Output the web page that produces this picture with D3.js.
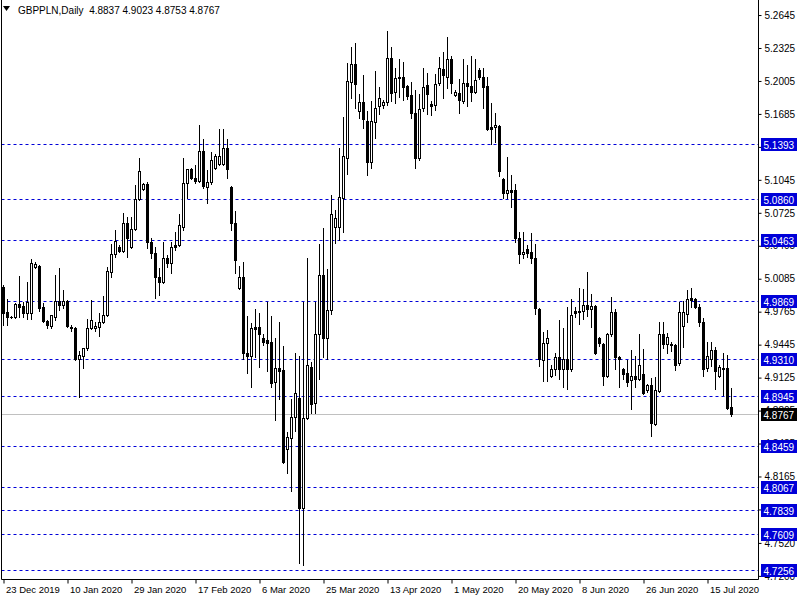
<!DOCTYPE html>
<html>
<head>
<meta charset="utf-8">
<style>
  html, body { margin: 0; padding: 0; background: #fff; }
  svg { display: block; font-family: Tahoma, "Liberation Sans", Arial, sans-serif; }
</style>
</head>
<body>
<svg id="chart" width="800" height="600"></svg>
<script src="https://cdnjs.cloudflare.com/ajax/libs/d3/7.8.5/d3.min.js"></script>
<script>
const symbol = 'GBPPLN,Daily'

// daily OHLC, 23 Dec 2019 .. 22 Jul 2020 (Sunday to Friday bars)
const open = [
  5.0004, 4.9762, 4.9713, 4.9713, 4.9839, 4.9820, 4.9752, 4.9752, 5.0198, 5.0208,
  4.9810, 4.9674, 4.9625, 4.9713, 4.9868, 4.9829, 4.9868, 4.9616, 4.9606, 4.9305,
  4.9334, 4.9412, 4.9606, 4.9606, 4.9616, 4.9664, 4.9732, 5.0150, 5.0325, 5.0393,
  5.0354, 5.0626, 5.0393, 5.0567, 5.0859, 5.0956, 5.1005, 5.0441, 5.0334, 5.0101,
  5.0053, 5.0286, 5.0237, 5.0413, 5.0413, 5.0587, 5.1014, 5.1150, 5.1063, 5.1034,
  5.1325, 5.0976, 5.1024, 5.1160, 5.1199, 5.1199, 5.1354, 5.0976, 5.0626, 4.9995,
  5.0101, 4.9363, 4.9334, 4.9616, 4.9616, 4.9509, 4.9490, 4.9470, 4.9082, 4.9218,
  4.9198, 4.8431, 4.8538, 4.8742, 4.8926, 4.7858, 4.8732, 4.9228, 4.8878, 4.9548,
  5.0121, 4.9509, 4.9781, 5.0587, 5.0587, 5.0869, 5.1257, 5.1995, 5.2170, 5.1713,
  5.1801, 5.1616, 5.1218, 5.1606, 5.1762, 5.1771, 5.1801, 5.2228, 5.1898, 5.2043,
  5.2043, 5.1956, 5.1869, 5.1694, 5.1257, 5.1742, 5.1966, 5.1781, 5.1771, 5.1985,
  5.2121, 5.2043, 5.2218, 5.1869, 5.1888, 5.1810, 5.1985, 5.1956, 5.1898, 5.2111,
  5.2043, 5.1956, 5.1558, 5.1558, 5.1567, 5.1053, 5.0917, 5.0946, 5.0946, 5.0480,
  5.0325, 5.0373, 5.0344, 5.0286, 4.9790, 4.9295, 4.9460, 4.9140, 4.9208, 4.9325,
  4.9208, 4.9305, 4.9208, 4.9771, 4.9771, 4.9771, 4.9829, 4.9790, 4.9820, 4.9509,
  4.9450, 4.9140, 4.9548, 4.9762, 4.9325, 4.9208, 4.9169, 4.9101, 4.9140, 4.9111,
  4.9159, 4.9004, 4.9053, 4.8674, 4.8995, 4.9548, 4.9450, 4.9450, 4.9441, 4.9266,
  4.9625, 4.9742, 4.9897, 4.9888, 4.9810, 4.9664, 4.9218, 4.9305, 4.9392, 4.9140,
  4.9218, 4.9218, 4.8837
]
const high = [
  5.0024, 4.9888, 4.9723, 4.9849, 5.0111, 4.9859, 5.0053, 5.0276, 5.0247, 5.0218,
  4.9849, 4.9684, 4.9732, 5.0121, 5.0188, 4.9975, 4.9878, 4.9635, 4.9616, 4.9383,
  4.9412, 4.9693, 4.9878, 4.9664, 4.9752, 4.9917, 5.0198, 5.0422, 5.0558, 5.0413,
  5.0723, 5.0684, 5.0684, 5.0995, 5.1257, 5.1014, 5.1024, 5.0480, 5.0393, 5.0188,
  5.0441, 5.0315, 5.0441, 5.0538, 5.0713, 5.1257, 5.1150, 5.1160, 5.1189, 5.1577,
  5.1441, 5.1140, 5.1315, 5.1296, 5.1538, 5.1538, 5.1441, 5.0985, 5.0742, 5.0208,
  5.0247, 4.9723, 4.9655, 4.9790, 4.9752, 4.9548, 4.9859, 4.9723, 4.9509, 4.9664,
  4.9431, 4.8596, 4.8917, 4.9363, 4.9334, 4.9859, 5.0286, 4.9276, 4.9859, 5.0422,
  5.0577, 5.0179, 5.0898, 5.0752, 5.1354, 5.1655, 5.2179, 5.2335, 5.2373, 5.1878,
  5.2063, 5.1713, 5.1810, 5.2102, 5.1946, 5.1820, 5.2490, 5.2335, 5.2131, 5.2218,
  5.2189, 5.1966, 5.1995, 5.1917, 5.1878, 5.2131, 5.2082, 5.1810, 5.2072, 5.2238,
  5.2286, 5.2432, 5.2247, 5.1917, 5.2024, 5.2218, 5.2160, 5.2247, 5.2218, 5.2131,
  5.2131, 5.2043, 5.1791, 5.1694, 5.1577, 5.1063, 5.1267, 5.1092, 5.1005, 5.0538,
  5.0538, 5.0413, 5.0529, 5.0422, 4.9800, 4.9567, 4.9587, 4.9247, 4.9363, 4.9684,
  4.9606, 4.9810, 4.9888, 4.9810, 4.9995, 4.9985, 5.0150, 4.9936, 4.9829, 4.9519,
  4.9460, 4.9558, 4.9907, 4.9790, 4.9334, 4.9218, 4.9295, 4.9392, 4.9334, 4.9548,
  4.9402, 4.9062, 4.9121, 4.9130, 4.9664, 4.9664, 4.9558, 4.9470, 4.9450, 4.9859,
  4.9868, 4.9975, 4.9995, 4.9897, 4.9839, 4.9703, 4.9470, 4.9470, 4.9421, 4.9247,
  4.9363, 4.9344, 4.9023
]
const low = [
  4.9635, 4.9635, 4.9703, 4.9703, 4.9713, 4.9713, 4.9693, 4.9693, 5.0188, 4.9771,
  4.9664, 4.9606, 4.9606, 4.9684, 4.9781, 4.9800, 4.9616, 4.9577, 4.9295, 4.8936,
  4.9218, 4.9392, 4.9597, 4.9577, 4.9528, 4.9655, 4.9723, 5.0101, 5.0296, 5.0344,
  5.0344, 5.0296, 5.0383, 5.0558, 5.0849, 5.0946, 5.0383, 5.0286, 4.9897, 4.9927,
  5.0043, 5.0198, 5.0140, 5.0363, 5.0402, 5.0558, 5.0869, 5.1053, 5.1014, 5.1024,
  5.0966, 5.0820, 5.1005, 5.1150, 5.1189, 5.1189, 5.1063, 5.0558, 5.0140, 4.9985,
  4.9305, 4.9169, 4.9033, 4.9325, 4.9228, 4.9441, 4.9189, 4.9033, 4.8713, 4.8917,
  4.8300, 4.8198, 4.8023, 4.8606, 4.7324, 4.7305, 4.8722, 4.8781, 4.8781, 4.9111,
  4.9325, 4.9305, 4.9742, 5.0432, 5.0461, 5.0538, 5.1102, 5.1839, 5.1742, 5.1645,
  5.1548, 5.1092, 5.1160, 5.1451, 5.1684, 5.1742, 5.1771, 5.1810, 5.1791, 5.1849,
  5.1820, 5.1830, 5.1645, 5.1160, 5.1237, 5.1713, 5.1684, 5.1674, 5.1723, 5.1966,
  5.1839, 5.1936, 5.1888, 5.1859, 5.1694, 5.1791, 5.1762, 5.1810, 5.1888, 5.2024,
  5.1742, 5.1529, 5.1393, 5.1412, 5.1082, 5.0869, 5.0869, 5.0781, 5.0441, 5.0237,
  5.0286, 5.0296, 5.0237, 4.9742, 4.9237, 4.9092, 4.9092, 4.9130, 4.9150, 4.9111,
  4.9033, 4.9014, 4.9189, 4.9713, 4.9645, 4.9693, 4.9723, 4.9616, 4.9354, 4.9431,
  4.9053, 4.9130, 4.9528, 4.9208, 4.9033, 4.9111, 4.9043, 4.8820, 4.9033, 4.9101,
  4.8966, 4.8985, 4.8557, 4.8664, 4.8985, 4.9412, 4.9363, 4.9383, 4.9198, 4.9247,
  4.9421, 4.9664, 4.9810, 4.9800, 4.9625, 4.9140, 4.9189, 4.9237, 4.9014, 4.9130,
  4.8956, 4.8820, 4.8753
]
const close = [
  4.9752, 4.9713, 4.9709, 4.9839, 4.9810, 4.9752, 4.9859, 5.0237, 5.0228, 4.9800,
  4.9674, 4.9635, 4.9732, 4.9868, 4.9829, 4.9868, 4.9625, 4.9606, 4.9305, 4.9344,
  4.9412, 4.9606, 4.9684, 4.9625, 4.9664, 4.9732, 5.0160, 5.0325, 5.0451, 5.0354,
  5.0626, 5.0480, 5.0567, 5.0859, 5.1131, 5.1005, 5.0441, 5.0334, 5.0101, 5.0053,
  5.0286, 5.0237, 5.0393, 5.0393, 5.0606, 5.1014, 5.1150, 5.1063, 5.1034, 5.1325,
  5.0985, 5.1024, 5.1237, 5.1276, 5.1276, 5.1354, 5.1150, 5.0626, 5.0266, 5.0101,
  4.9363, 4.9334, 4.9606, 4.9597, 4.9548, 4.9470, 4.9460, 4.9072, 4.9218, 4.9189,
  4.8305, 4.8547, 4.8742, 4.8975, 4.7858, 4.8732, 4.9247, 4.8868, 4.9548, 5.0121,
  4.9509, 4.9781, 5.0713, 5.0674, 5.0878, 5.1276, 5.2005, 5.2170, 5.1975, 5.1801,
  5.1635, 5.1218, 5.1616, 5.1742, 5.1839, 5.1801, 5.2228, 5.1888, 5.2034, 5.2034,
  5.1946, 5.1859, 5.1694, 5.1257, 5.1733, 5.1946, 5.1878, 5.1762, 5.1975, 5.2131,
  5.2063, 5.2218, 5.1985, 5.1898, 5.1820, 5.1985, 5.1956, 5.1898, 5.2014, 5.2043,
  5.1946, 5.1538, 5.1538, 5.1577, 5.1131, 5.0917, 5.0946, 5.0927, 5.0480, 5.0325,
  5.0344, 5.0334, 5.0286, 4.9800, 4.9305, 4.9460, 4.9509, 4.9208, 4.9325, 4.9208,
  4.9305, 4.9208, 4.9732, 4.9752, 4.9762, 4.9829, 4.9790, 4.9820, 4.9363, 4.9460,
  4.9140, 4.9548, 4.9762, 4.9325, 4.9305, 4.9159, 4.9082, 4.9140, 4.9111, 4.9247,
  4.8975, 4.9053, 4.8684, 4.9004, 4.9548, 4.9450, 4.9519, 4.9441, 4.9247, 4.9762,
  4.9762, 4.9888, 4.9878, 4.9810, 4.9664, 4.9208, 4.9334, 4.9392, 4.9189, 4.9228,
  4.9208, 4.8829, 4.8767
]

const priceTicks = [5.2645, 5.2325, 5.2005, 5.1685, 5.1365, 5.1045, 5.0725, 5.0405, 5.0085,
  4.9765, 4.9445, 4.9125, 4.8805, 4.8485, 4.8165, 4.7845, 4.7520, 4.7200]
const levels = [5.1393, 5.0860, 5.0463, 4.9869, 4.9310, 4.8945, 4.8459, 4.8067, 4.7839, 4.7609, 4.7256]
const dateTicks = ['2019-12-23', '2020-01-10', '2020-01-29', '2020-02-17', '2020-03-06', '2020-03-25',
  '2020-04-13', '2020-05-01', '2020-05-20', '2020-06-08', '2020-06-26', '2020-07-15']

// the broker prints a bar for every day but Saturday
const dates = d3.utcDay.range(new Date(Date.UTC(2019, 11, 23)), new Date(Date.UTC(2020, 6, 23)))
  .filter(d => d.getUTCDay() !== 6)
  .map(d3.utcFormat('%Y-%m-%d'))

const bars = dates.map((date, i) => ({date, o: open[i], h: high[i], l: low[i], c: close[i]}))
const last = bars[bars.length - 1]

const plotRight = 758.5, plotBottom = 579.5
const levelColor = '#0000d8'
const fmt = d3.format('.4f')

const x = d3.scalePoint().domain(dates).range([3.5, 731.5])
const y = d3.scaleLinear().domain([4.7160, 5.2791]).range([580, 0])

const svg = d3.select('#chart')

// horizontal levels
svg.append('g').selectAll('line')
  .data(levels)
  .join('line')
  .attr('x1', 1.5).attr('x2', plotRight)
  .attr('y1', d => Math.round(y(d)) + 0.5).attr('y2', d => Math.round(y(d)) + 0.5)
  .attr('stroke', levelColor)
  .attr('stroke-dasharray', '3,3')

// bid line
svg.append('line')
  .attr('x1', 1.5).attr('x2', plotRight)
  .attr('y1', Math.round(y(last.c)) + 0.5).attr('y2', Math.round(y(last.c)) + 0.5)
  .attr('stroke', '#c0c0c0')

// candles
const candle = svg.append('g').selectAll('g')
  .data(bars)
  .join('g')

candle.append('line')
  .attr('x1', d => x(d.date)).attr('x2', d => x(d.date))
  .attr('y1', d => Math.round(y(d.h))).attr('y2', d => Math.round(y(d.l)) + 1)
  .attr('stroke', '#000')

candle.each(function (d) {
  const g = d3.select(this)
  const top = Math.round(y(Math.max(d.o, d.c)))
  const bottom = Math.round(y(Math.min(d.o, d.c)))
  if (d.c >= d.o) {
    g.append('rect')
      .attr('x', x(d.date) - 1).attr('width', 2)
      .attr('y', top + 0.5).attr('height', Math.max(0, bottom - top))
      .attr('fill', '#fff').attr('stroke', '#000')
  } else {
    g.append('rect')
      .attr('x', x(d.date) - 1.5).attr('width', 3)
      .attr('y', top).attr('height', Math.max(1, bottom - top + 1))
      .attr('fill', '#000')
  }
})

// frame
svg.append('path')
  .attr('d', `M1.5,0V${plotBottom}H${plotRight}V0`)
  .attr('fill', 'none')
  .attr('stroke', '#000')

// price axis
const yAxis = svg.append('g')
  .attr('transform', `translate(${plotRight},0)`)
  .call(d3.axisRight(y).tickValues(priceTicks).tickSize(3).tickPadding(3).tickFormat(fmt))
yAxis.select('.domain').remove()
yAxis.selectAll('text').attr('font-size', 10).attr('font-family', null).attr('fill', '#000')

// date axis
const parse = d3.utcParse('%Y-%m-%d')
const dateFmt = d3.utcFormat('%-d %b %Y')
const xAxis = svg.append('g')
  .attr('transform', `translate(0,${plotBottom})`)
  .call(d3.axisBottom(x).tickValues(dateTicks).tickSize(4).tickPadding(3).tickFormat(d => dateFmt(parse(d))))
xAxis.select('.domain').remove()
xAxis.selectAll('text')
  .attr('text-anchor', 'start').attr('x', 2)
  .attr('font-size', 9.5).attr('font-family', null).attr('fill', '#000')

// level labels on the price scale
const tag = svg.append('g').selectAll('g')
  .data(levels.map(v => ({v, bg: levelColor})).concat([{v: last.c, bg: '#000'}]))
  .join('g')
  .attr('transform', d => `translate(761,${Math.round(y(d.v))})`)
tag.append('rect')
  .attr('x', 0).attr('y', -6).attr('width', 36).attr('height', 13)
  .attr('fill', d => d.bg)
tag.append('text')
  .attr('x', 2.5).attr('y', 4.5)
  .attr('font-size', 10)
  .attr('fill', '#fff')
  .text(d => fmt(d.v))

// header
svg.append('path').attr('d', 'M3,6H10L6.5,11Z').attr('fill', '#000')
svg.append('text')
  .attr('x', 18).attr('y', 14)
  .attr('font-size', 10)
  .attr('xml:space', 'preserve')
  .text(`${symbol}  ${[last.o, last.h, last.l, last.c].map(fmt).join(' ')}`)
</script>
</body>
</html>
